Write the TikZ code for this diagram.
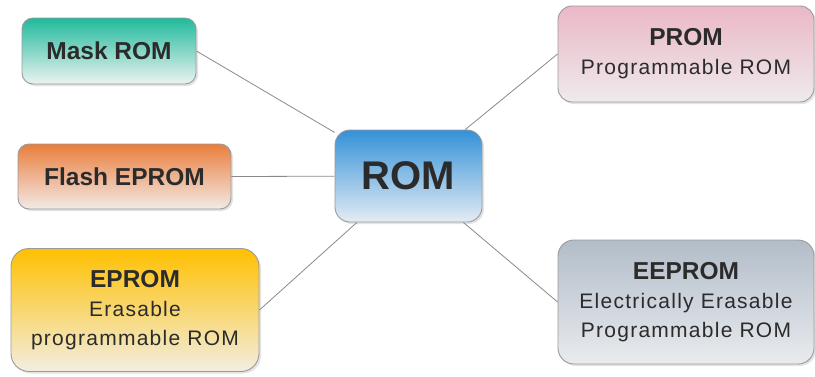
\documentclass[tikz,border=0pt]{standalone}
\usepackage{fontspec}
\setmainfont{Liberation Sans}
\newfontfamily\widesans[LetterSpace=6]{Liberation Sans}
\usetikzlibrary{shadows}
\definecolor{txt}{HTML}{2B2B2B}
\definecolor{edge}{HTML}{9A9A9A}
\definecolor{link}{HTML}{8A8A8A}
\tikzset{
  box/.style={draw=edge, line width=0.9pt, rounded corners=11pt, align=center,
    text=txt, inner sep=0pt,
    drop shadow={shadow xshift=2pt, shadow yshift=-2pt, opacity=0.18, fill=black!60}},
  conn/.style={draw=link, line width=0.8pt},
  title/.style={font=\bfseries\fontsize{24.5}{29}\selectfont},
}
\newcommand{\sub}[1]{{\widesans\mdseries\fontsize{21}{29}\selectfont #1}}
\begin{document}
\begin{tikzpicture}[x=1pt, y=-1pt]
  \useasboundingbox (0,0) rectangle (815,376);

  % central node
  \node[box, rounded corners=15pt, minimum width=147pt, minimum height=92pt,
        top color={rgb,255:red,52;green,145;blue,215}, bottom color={rgb,255:red,228;green,236;blue,244},
        font=\bfseries\fontsize{40}{46}\selectfont] (rom) at (408.5,176) {ROM};

  % left branch
  \node[box, title, minimum width=174pt, minimum height=66pt,
        top color={rgb,255:red,32;green,186;blue,156}, bottom color={rgb,255:red,236;green,243;blue,241}]
        (mask) at (109,51) {Mask ROM};
  \node[box, title, minimum width=213pt, minimum height=65pt,
        top color={rgb,255:red,234;green,126;blue,60}, bottom color={rgb,255:red,242;green,234;blue,230}]
        (flash) at (124.5,176.5) {Flash EPROM};
  \node[box, title, rounded corners=18pt, minimum width=248pt, minimum height=123pt,
        top color={rgb,255:red,255;green,192;blue,0}, bottom color={rgb,255:red,242;green,238;blue,226}]
        (eprom) at (135,310) {EPROM\\\sub{Erasable}\\\sub{programmable ROM}};

  % right branch
  \node[box, title, rounded corners=14pt, minimum width=256pt, minimum height=96pt,
        top color={rgb,255:red,234;green,184;blue,198}, bottom color={rgb,255:red,238;green,234;blue,236}]
        (prom) at (686,54) {PROM\\\sub{Programmable ROM}};
  \node[box, title, rounded corners=16pt, minimum width=256pt, minimum height=124pt,
        top color={rgb,255:red,178;green,189;blue,201}, bottom color={rgb,255:red,233;green,235;blue,238}]
        (eeprom) at (686,302) {EEPROM\\\sub{Electrically Erasable}\\\sub{Programmable ROM}};

  % connectors
  \draw[conn] (mask.east) -- (rom);
  \draw[conn] (flash.east) -- (rom);
  \draw[conn] (eprom.east) -- (rom);
  \draw[conn] (prom.west) -- (rom);
  \draw[conn] (eeprom.west) -- (rom);
\end{tikzpicture}
\end{document}
